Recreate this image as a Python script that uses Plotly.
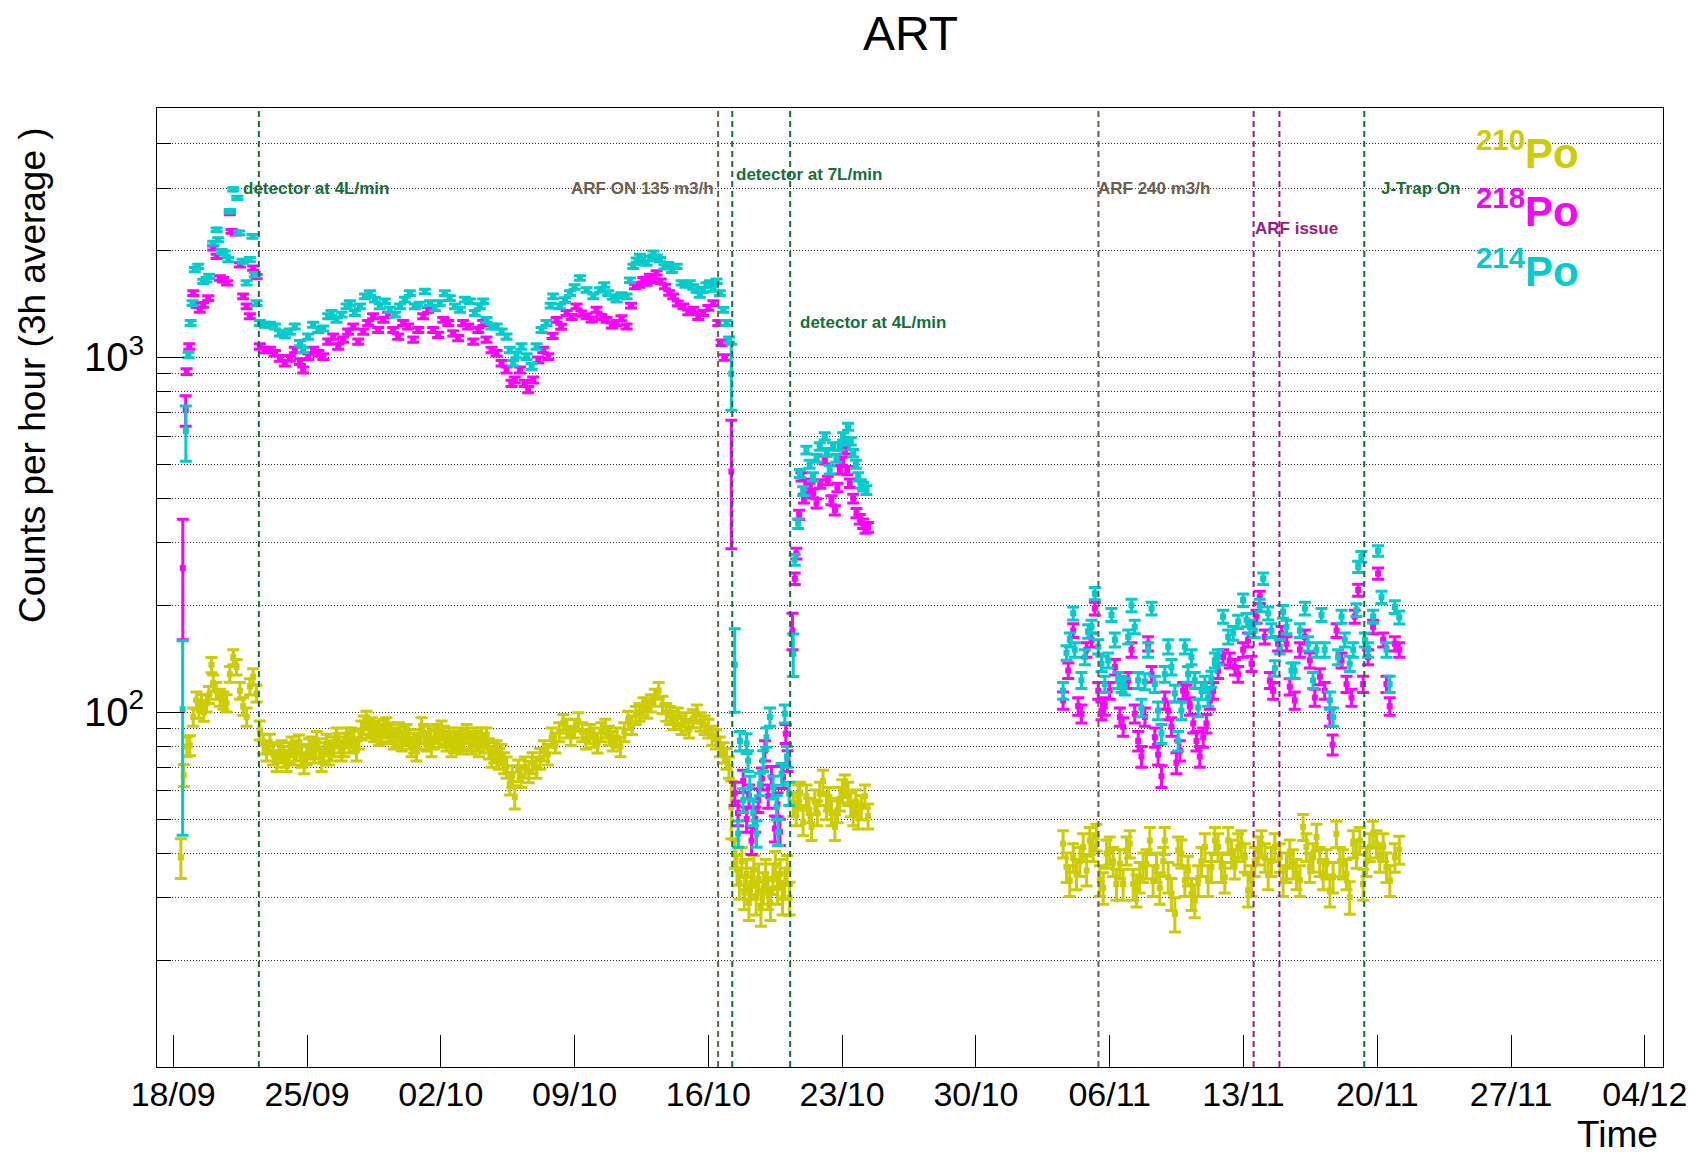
import math
import pandas as pd
import plotly.graph_objects as go

# ---------------- data (day offset from 18/09 00:00, counts per hour [, error]) ----------------
START = "2023-09-18"

po210_points = [
    (0.40, 39, 5), (0.55, 66.5), (0.72, 80), (0.87, 80.7), (1.045, 97), (1.22, 108), (1.35, 102), (1.48, 106),
    (1.60, 100), (1.74, 106), (1.87, 112), (2.00, 136), (2.09, 121), (2.25, 115), (2.44, 110), (2.62, 108),
    (2.79, 106), (2.96, 128), (3.14, 143), (3.31, 134), (3.49, 115), (3.66, 104), (3.84, 97), (4.01, 118),
    (4.18, 126), (4.36, 113), (4.53, 89), (4.71, 81.5), (4.88, 78), (5.06, 81.5), (5.23, 76), (5.41, 73),
    (5.54, 77), (5.67, 78), (5.80, 75), (5.93, 73), (6.06, 77), (6.19, 80), (6.32, 76), (6.45, 78),
    (6.58, 81), (6.71, 75), (6.85, 72), (6.98, 76), (7.11, 79), (7.24, 80), (7.37, 77), (7.50, 83),
    (7.63, 79), (7.76, 73), (7.89, 77), (8.02, 81.5), (8.15, 76), (8.28, 78), (8.41, 80), (8.54, 85),
    (8.67, 82), (8.81, 78), (8.94, 80), (9.07, 85), (9.20, 82), (9.33, 85), (9.46, 83), (9.59, 78),
    (9.72, 84), (9.85, 89), (9.98, 92), (10.11, 95), (10.24, 90), (10.38, 91), (10.51, 88), (10.64, 89),
    (10.77, 86), (10.90, 87), (11.03, 90), (11.16, 91), (11.29, 88), (11.42, 87), (11.55, 84), (11.68, 85),
    (11.81, 88), (11.95, 83), (12.08, 86), (12.21, 87), (12.34, 84), (12.47, 80), (12.60, 82), (12.73, 78),
    (12.86, 84), (12.99, 91), (13.12, 87), (13.25, 83), (13.38, 86), (13.51, 80), (13.64, 84), (13.78, 87),
    (13.91, 85), (14.04, 89), (14.17, 86), (14.30, 83), (14.43, 85), (14.56, 80), (14.69, 82), (14.82, 83),
    (14.95, 85), (15.08, 81.5), (15.21, 84), (15.35, 87), (15.48, 83), (15.61, 81.5), (15.74, 85), (15.87, 83),
    (16.00, 80), (16.13, 85), (16.26, 82), (16.39, 85), (16.52, 79), (16.66, 75), (16.79, 77), (16.92, 78),
    (17.05, 74), (17.18, 76), (17.31, 72), (17.44, 70), (17.61, 63), (17.74, 66), (17.87, 57.7), (18.05, 68.6),
    (18.20, 66), (18.40, 70), (18.60, 68), (18.80, 72), (19.00, 70), (19.20, 74), (19.40, 78), (19.60, 76),
    (19.80, 85), (20.00, 82), (20.20, 88), (20.40, 93), (20.60, 90), (20.80, 86), (21.00, 90), (21.20, 94),
    (21.40, 88), (21.60, 84), (21.80, 87), (22.00, 85), (22.20, 82), (22.40, 88), (22.60, 90), (22.80, 86),
    (23.00, 83), (23.20, 85), (23.40, 80), (23.60, 88), (23.80, 95), (24.00, 92), (24.20, 98), (24.40, 100),
    (24.60, 104), (24.80, 102), (25.00, 106), (25.20, 110), (25.40, 115), (25.60, 105), (25.80, 100), (26.00, 98),
    (26.20, 95), (26.40, 97), (26.60, 92), (26.80, 94), (27.00, 90), (27.20, 96), (27.40, 99), (27.60, 94),
    (27.80, 92), (28.00, 90), (28.20, 86), (28.40, 84), (28.60, 80), (28.80, 77), (28.95, 74), (29.08, 70),
    (29.20, 54, 10),
    (29.38, 40), (29.50, 36), (29.62, 33), (29.75, 38), (29.88, 31), (30.00, 35), (30.12, 29), (30.25, 33),
    (30.38, 36), (30.50, 30), (30.62, 34), (30.75, 28), (30.88, 32), (31.00, 35), (31.12, 31), (31.25, 29),
    (31.38, 34), (31.50, 37), (31.62, 32), (31.75, 35), (31.88, 30), (32.00, 33), (32.12, 36), (32.25, 30),
    (32.45, 55), (32.60, 52), (32.70, 58), (32.79, 59), (32.96, 49), (33.13, 58), (33.27, 53), (33.40, 47.5),
    (33.57, 56), (33.70, 52), (33.83, 59), (34.00, 64), (34.18, 54), (34.30, 57), (34.44, 52), (34.62, 47.5),
    (34.75, 53), (34.88, 57), (35.01, 60), (35.14, 62), (35.31, 59), (35.45, 55), (35.58, 52), (35.72, 56),
    (35.84, 51), (36.00, 54), (36.19, 58), (36.36, 51),
    (46.56, 42.6), (46.74, 36.6), (46.91, 33.6), (47.09, 39), (47.26, 35), (47.44, 38), (47.61, 41.7), (47.79, 35.8),
    (47.96, 43.5), (48.13, 41.7), (48.31, 44.5), (48.48, 33.6), (48.66, 32), (48.83, 40), (49.00, 40.8), (49.18, 38),
    (49.35, 32.8), (49.53, 37.4), (49.70, 32.8), (49.88, 40.8), (50.05, 42.6), (50.23, 32.8), (50.40, 31.5), (50.57, 34.3),
    (50.75, 36.6), (50.92, 37.4), (51.10, 43.5), (51.27, 33.6), (51.45, 36.6), (51.62, 32), (51.80, 38), (51.88, 43.5),
    (52.06, 34.3), (52.23, 30.8), (52.41, 27), (52.58, 40.8), (52.75, 40), (52.93, 33.6), (53.10, 35.8), (53.28, 30.8),
    (53.45, 29.5), (53.63, 33.6), (53.80, 38), (53.98, 41.7), (54.15, 33.6), (54.32, 36.6), (54.50, 43.5), (54.67, 41.7),
    (54.85, 36.6), (55.02, 34.3), (55.20, 43.5), (55.37, 40), (55.54, 37.4), (55.72, 41.7), (55.89, 42.6), (56.07, 39),
    (56.24, 31.5), (56.42, 33.6), (56.59, 38), (56.77, 40.8), (56.94, 42.6), (57.12, 39), (57.29, 35), (57.46, 38),
    (57.64, 41.7), (57.90, 39), (58.07, 33.6), (58.25, 36.6), (58.42, 40), (58.60, 37.4), (58.77, 35), (58.95, 33.6),
    (59.12, 47.5), (59.29, 41.7), (59.47, 36.6), (59.64, 39), (59.82, 44.5), (59.99, 38), (60.17, 35), (60.34, 37.4),
    (60.52, 31.5), (60.69, 34.3), (60.86, 45.4), (61.04, 38), (61.21, 37.4), (61.39, 35), (61.56, 30.1), (61.74, 42.6),
    (61.91, 40), (62.09, 43.5), (62.26, 32.8), (62.43, 38), (62.61, 41.7), (62.78, 45.4), (62.96, 42.6), (63.13, 39),
    (63.31, 41.7), (63.48, 36.6), (63.66, 33.6), (63.92, 39), (64.15, 41),
]

po218_points = [
    (0.50, 255, 95), (0.65, 710, 70), (0.70, 912), (0.84, 1073), (1.05, 1518), (1.22, 1406), (1.39, 1361),
    (1.57, 1406), (1.83, 1470), (2.09, 2034), (2.27, 1927), (2.44, 1675), (2.61, 1656), (2.82, 1622),
    (2.96, 2555), (3.05, 2265), (3.28, 2240), (3.49, 1824), (3.66, 1486), (3.84, 1393), (4.01, 1306),
    (4.18, 1786), (4.36, 1690), (4.53, 1073), (4.79, 1050), (5.06, 1050), (5.32, 1027), (5.58, 994),
    (5.84, 963), (6.10, 994), (6.36, 1050), (6.63, 973), (6.80, 922), (7.06, 1005), (7.32, 1050),
    (7.59, 1027), (7.85, 1005), (8.11, 1108), (8.37, 1145), (8.63, 1073), (8.89, 1122), (9.15, 1183),
    (9.42, 1222), (9.68, 1108), (9.94, 1183), (10.20, 1250), (10.46, 1306), (10.72, 1195), (10.99, 1276),
    (11.25, 1320), (11.51, 1195), (11.77, 1145), (12.03, 1250), (12.29, 1222), (12.56, 1122), (12.82, 1195),
    (13.08, 1306), (13.34, 1361), (13.60, 1195), (13.86, 1157), (14.13, 1276), (14.39, 1250), (14.65, 1169),
    (14.91, 1133), (15.17, 1250), (15.43, 1222), (15.70, 1108), (15.96, 1195), (16.22, 1250), (16.39, 1122),
    (16.65, 1050), (16.92, 1027), (17.18, 963), (17.44, 922), (17.70, 845), (17.87, 864), (18.14, 922),
    (18.40, 845), (18.57, 811), (18.83, 864), (19.10, 984), (19.36, 1050), (19.62, 1005), (19.85, 1150),
    (20.06, 1276), (20.30, 1220), (20.58, 1334), (20.85, 1300), (21.10, 1393), (21.35, 1330), (21.63, 1306),
    (21.90, 1280), (22.15, 1363), (22.40, 1300), (22.67, 1276), (22.95, 1230), (23.20, 1250), (23.45, 1290),
    (23.72, 1222), (23.95, 1400), (24.16, 1585), (24.40, 1600), (24.59, 1656), (24.77, 1620), (24.94, 1692),
    (25.10, 1650), (25.29, 1730), (25.50, 1640), (25.73, 1585), (25.95, 1520), (26.16, 1486), (26.40, 1420),
    (26.69, 1393), (26.95, 1340), (27.21, 1363), (27.47, 1300), (27.73, 1334), (28.00, 1380), (28.26, 1423),
    (28.52, 1250), (28.69, 1100), (28.85, 1000), (29.20, 477, 188),
    (29.38, 59), (29.55, 52), (29.82, 64), (30.00, 50), (30.13, 58), (30.26, 43.5), (30.45, 50), (30.61, 56.5),
    (30.80, 65), (30.96, 78), (31.13, 58), (31.30, 65.6), (31.48, 47), (31.62, 55), (31.74, 46), (31.91, 65.6),
    (32.05, 87), (32.14, 73), (32.40, 170, 20), (32.52, 238), (32.60, 280), (32.75, 360), (32.87, 461),
    (33.00, 400), (33.13, 442), (33.30, 430), (33.48, 414), (33.66, 388), (33.85, 440), (34.09, 514),
    (34.25, 450), (34.44, 396), (34.62, 371), (34.75, 430), (34.88, 482), (35.00, 510), (35.14, 548),
    (35.27, 480), (35.40, 442), (35.58, 400), (35.75, 364), (35.92, 350), (36.10, 340), (36.23, 330), (36.36, 332),
    (46.56, 108), (46.83, 131), (47.09, 170), (47.35, 104), (47.52, 99), (47.78, 150), (48.05, 160), (48.22, 196),
    (48.40, 115), (48.57, 101), (48.74, 104), (49.00, 115), (49.27, 134), (49.53, 97), (49.70, 91), (49.97, 123),
    (50.14, 150), (50.31, 99), (50.49, 83), (50.66, 75), (50.84, 97), (51.01, 156), (51.19, 128), (51.36, 85),
    (51.53, 76), (51.71, 66), (51.88, 108), (52.06, 101), (52.23, 91), (52.49, 72), (52.67, 78), (52.84, 115),
    (53.02, 113), (53.19, 104), (53.37, 93), (53.54, 83), (53.71, 75), (53.89, 85), (54.06, 93), (54.24, 108),
    (54.41, 115), (54.67, 131), (54.93, 143), (55.28, 140), (55.55, 134), (55.72, 128), (55.98, 150), (56.24, 160),
    (56.42, 137), (56.68, 186), (56.85, 211), (57.11, 163), (57.38, 123), (57.55, 115), (57.81, 156), (57.99, 167),
    (58.25, 156), (58.42, 118), (58.68, 108), (58.95, 150), (59.21, 163), (59.47, 140), (59.73, 110), (60.00, 126),
    (60.25, 115), (60.52, 97), (60.66, 81), (60.87, 170), (61.13, 140), (61.39, 120), (61.65, 110), (61.82, 186),
    (62.00, 221), (62.26, 120), (62.52, 143), (62.78, 174), (63.04, 246), (63.31, 160), (63.48, 120), (63.65, 104),
    (63.92, 156), (64.15, 150),
]

po214_points = [
    (0.49, 102, 57), (0.66, 620, 110), (0.80, 1016), (0.91, 1250), (1.01, 1423), (1.13, 1767), (1.31, 1806),
    (1.57, 1638), (1.74, 1656), (1.88, 1692), (2.09, 2100), (2.27, 2290), (2.35, 2146), (2.53, 1990),
    (2.70, 1970), (2.88, 1886), (2.96, 2584), (3.14, 2974), (3.35, 2816), (3.45, 2244), (3.63, 1866),
    (3.84, 1622), (4.01, 1887), (4.15, 2195), (4.27, 1711), (4.36, 1423), (4.53, 1250), (4.80, 1236),
    (5.06, 1236), (5.32, 1222), (5.58, 1169), (5.84, 1156), (6.10, 1183), (6.36, 1222), (6.63, 1097),
    (6.80, 1050), (7.06, 1145), (7.32, 1236), (7.59, 1195), (7.85, 1207), (8.11, 1306), (8.28, 1334),
    (8.54, 1276), (8.81, 1320), (9.07, 1393), (9.24, 1423), (9.50, 1334), (9.77, 1393), (10.03, 1486),
    (10.29, 1518), (10.55, 1455), (10.81, 1393), (11.07, 1440), (11.33, 1363), (11.60, 1320), (11.86, 1393),
    (12.12, 1455), (12.38, 1518), (12.64, 1393), (12.90, 1408), (13.17, 1535), (13.43, 1423), (13.69, 1378),
    (13.95, 1423), (14.21, 1518), (14.47, 1470), (14.74, 1393), (15.00, 1363), (15.26, 1455), (15.52, 1440),
    (15.78, 1334), (16.04, 1393), (16.22, 1440), (16.39, 1276), (16.65, 1222), (16.92, 1222), (17.18, 1183),
    (17.44, 1145), (17.61, 1050), (17.79, 963), (17.96, 1016), (18.22, 1074), (18.49, 1005), (18.75, 943),
    (19.01, 1074), (19.27, 1195), (19.53, 1250), (19.75, 1400), (19.88, 1486), (20.23, 1393), (20.50, 1450),
    (20.76, 1518), (21.00, 1580), (21.28, 1675), (21.63, 1550), (21.98, 1486), (22.33, 1550), (22.55, 1600),
    (22.76, 1518), (23.00, 1480), (23.20, 1455), (23.45, 1500), (23.72, 1486), (23.90, 1650), (24.07, 1806),
    (24.25, 1880), (24.42, 1928), (24.60, 1850), (24.77, 1845), (24.95, 1900), (25.12, 1970), (25.30, 1920),
    (25.47, 1886), (25.70, 1800), (25.90, 1826), (26.10, 1760), (26.34, 1806), (26.60, 1622), (26.80, 1600),
    (27.03, 1622), (27.20, 1580), (27.38, 1550), (27.55, 1500), (27.73, 1550), (27.90, 1600), (28.08, 1622),
    (28.25, 1560), (28.43, 1640), (28.60, 1518), (28.78, 1362), (28.95, 1250), (29.08, 1122), (29.20, 900, 190),
    (29.38, 136, 36),
    (29.56, 45.5), (29.65, 83), (29.82, 56.5), (30.00, 81.7), (30.08, 73), (30.17, 61.5), (30.35, 52), (30.52, 45.5),
    (30.70, 62.7), (30.87, 73), (31.04, 85), (31.22, 97), (31.39, 61.5), (31.57, 54), (31.65, 46), (31.83, 67),
    (32.00, 99), (32.12, 75), (32.23, 59), (32.44, 146, 20), (32.52, 269), (32.70, 340), (32.79, 471), (32.96, 420),
    (33.13, 548), (33.30, 500), (33.48, 461), (33.66, 520), (33.83, 561), (34.09, 599), (34.20, 540), (34.35, 482),
    (34.53, 561), (34.70, 520), (34.88, 561), (35.05, 599), (35.20, 580), (35.31, 638), (35.45, 580), (35.58, 537),
    (35.72, 500), (35.84, 461), (35.98, 440), (36.10, 432), (36.27, 423),
    (46.56, 115), (46.74, 147), (46.91, 160), (47.09, 190), (47.17, 150), (47.52, 123), (47.70, 143), (47.87, 169),
    (48.05, 174), (48.22, 216), (48.40, 153), (48.57, 137), (48.74, 120), (48.92, 140), (49.09, 188), (49.27, 160),
    (49.44, 123), (49.62, 120), (49.79, 118), (49.97, 163), (50.14, 200), (50.31, 174), (50.49, 123), (50.66, 103),
    (50.84, 122), (51.01, 150), (51.19, 196), (51.36, 120), (51.53, 101), (51.71, 87), (51.88, 128), (52.06, 153),
    (52.23, 134), (52.41, 113), (52.58, 83), (52.75, 101), (52.93, 153), (53.10, 128), (53.28, 143), (53.45, 123),
    (53.63, 103), (53.80, 115), (53.98, 120), (54.15, 110), (54.32, 124), (54.50, 140), (54.67, 143), (54.93, 186),
    (55.20, 163), (55.46, 167), (55.72, 180), (55.98, 207), (56.16, 182), (56.33, 174), (56.59, 170), (56.85, 200),
    (57.03, 238), (57.29, 190), (57.46, 170), (57.64, 133), (57.90, 153), (58.07, 192), (58.25, 174), (58.51, 131),
    (58.68, 131), (58.95, 170), (59.21, 196), (59.38, 156), (59.64, 123), (59.82, 150), (60.08, 188), (60.25, 150),
    (60.52, 108), (60.69, 97), (60.95, 143), (61.13, 186), (61.30, 160), (61.56, 137), (61.74, 150), (61.91, 194),
    (62.00, 257), (62.17, 274), (62.35, 160), (62.52, 150), (62.78, 186), (63.04, 285), (63.22, 211), (63.48, 150),
    (63.65, 120), (63.92, 198), (64.15, 185),
]

# vertical marker lines: (day offset, colour key)
event_lines = [(4.48, "green"), (28.51, "brown"), (29.25, "green"), (32.28, "green"),
               (48.41, "brown"), (56.53, "purple"), (57.88, "purple"), (62.32, "green")]
# labels: (text, day offset of left edge, y value, colour key)
event_labels = [("detector at 4L/min", 3.57, 3000, "green"),
                ("ARF ON 135 m3/h", 20.69, 3000, "brown"),
                ("detector at 7L/min", 29.36, 3280, "green"),
                ("detector at 4L/min", 32.71, 1255, "green"),
                ("ARF 240 m3/h", 48.30, 3000, "brown"),
                ("ARF issue", 56.50, 2315, "purple"),
                ("J-Trap On", 63.10, 3000, "green")]

x_tick_days = [0, 7, 14, 21, 28, 35, 42, 49, 56, 63, 70, 77]
x_tick_labels = ["18/09", "25/09", "02/10", "09/10", "16/10", "23/10", "30/10",
                 "06/11", "13/11", "20/11", "27/11", "04/12"]
y_major = [100, 1000]
y_major_labels = ["10<sup>2</sup>", "10<sup>3</sup>"]
y_minor = [20, 30, 40, 50, 60, 70, 80, 90, 200, 300, 400, 500, 600, 700, 800, 900, 2000, 3000, 4000]

COL = {"green": "#14703a", "brown": "#6b5e4e", "purple": "#9b1b7f"}
SERIES = [("210", po210_points, "#cccc00"), ("218", po218_points, "#ff00ff"), ("214", po214_points, "#00cccc")]
FONT = "Liberation Sans, Arial, sans-serif"

base = pd.Timestamp(START)


def to_time(d):
    return base + pd.to_timedelta(d, unit="D")


fig = go.Figure()
for name, pts, col in SERIES:
    xs = [to_time(p[0]) for p in pts]
    ys = [p[1] for p in pts]
    es = [p[2] if len(p) > 2 else math.sqrt(p[1] / 3.0) for p in pts]
    fig.add_trace(go.Scatter(
        x=xs, y=ys, mode="markers", name=name,
        marker=dict(symbol="square", size=6, color=col, line=dict(width=0)),
        error_y=dict(type="data", array=es, visible=True, color=col, thickness=3, width=6),
        showlegend=False,
    ))

for d, c in event_lines:
    fig.add_shape(type="line", xref="x", yref="paper", x0=to_time(d), x1=to_time(d), y0=0, y1=1,
                  line=dict(color=COL[c], width=2, dash="6px,4px"), layer="above")

for text, d, yv, c in event_labels:
    fig.add_annotation(x=to_time(d), y=math.log10(yv), xref="x", yref="y", text=text, showarrow=False,
                       xanchor="left", yanchor="middle",
                       font=dict(family=FONT, size=17, color=COL[c], weight="bold"))

# legend-like labels
for (name, pts, col), yp in zip(SERIES, [0.9567, 0.8957, 0.8332]):
    fig.add_annotation(x=0.8745, y=yp, xref="paper", yref="paper",
                       text=f"<sup>{name}</sup>Po", showarrow=False, xanchor="left", yanchor="middle",
                       font=dict(family=FONT, size=42, color=col, weight="bold"))

# title
fig.add_annotation(x=0.5, y=1.0782, xref="paper", yref="paper", text="ART", showarrow=False,
                   xanchor="center", yanchor="middle", borderpad=0,
                   font=dict(family=FONT, size=48, color="black"))
# y axis title
fig.add_annotation(x=-0.0827, y=0.9827, xref="paper", yref="paper", text="Counts per hour (3h average )",
                   textangle=-90, showarrow=False, xanchor="center", yanchor="top",
                   font=dict(family=FONT, size=37, color="black"))
# x axis title
fig.add_annotation(x=0.998, y=-0.0709, xref="paper", yref="paper", text="Time", showarrow=False,
                   xanchor="right", yanchor="middle",
                   font=dict(family=FONT, size=37, color="black"))

fig.update_layout(
    width=1699, height=1153,
    margin=dict(l=149, r=44, t=100, b=94),
    paper_bgcolor="white", plot_bgcolor="white",
    showlegend=False,
    xaxis=dict(
        type="date", range=[to_time(-0.85), to_time(77.95)],
        tickmode="array", tickvals=[to_time(d) for d in x_tick_days], ticktext=x_tick_labels,
        ticks="inside", ticklen=32, tickwidth=1, tickcolor="black",
        showgrid=False, zeroline=False, automargin=False,
        showline=True, linecolor="black", linewidth=1, mirror=True,
        tickfont=dict(family=FONT, size=34, color="black"), ticklabelstandoff=-3,
    ),
    yaxis=dict(
        type="log", range=[1.0, 3.703],
        tickmode="array", tickvals=y_major, ticktext=y_major_labels,
        ticks="inside", ticklen=27, tickwidth=1, tickcolor="black",
        showgrid=True, gridcolor="#333333", gridwidth=1, griddash="1px,2px",
        minor=dict(tickmode="array", tickvals=y_minor, ticks="inside", ticklen=14, tickcolor="black",
                   showgrid=True, gridcolor="#333333", gridwidth=1, griddash="1px,2px"),
        zeroline=False, automargin=False,
        showline=True, linecolor="black", linewidth=1, mirror=True,
        tickfont=dict(family=FONT, size=40, color="black"), ticklabelstandoff=4,
    ),
)

fig.write_html("out.html")
